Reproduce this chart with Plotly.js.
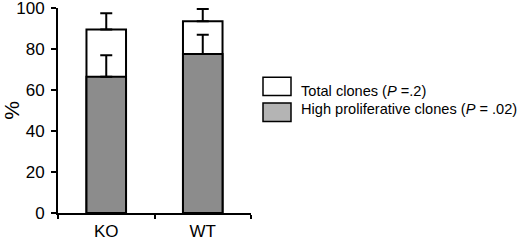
<!DOCTYPE html>
<html>
<head>
<meta charset="utf-8">
<script src="https://cdn.plot.ly/plotly-3.0.1.min.js"></script>
<style>html,body{margin:0;padding:0;background:#fff;}#chart{width:520px;height:240px;}</style>
</head>
<body>
<div id="chart"></div>
<script>
const categories = ['KO', 'WT'];
const totalClones = [89.5, 93.5];
const totalErr = [8, 6];
const highClones = [66.5, 77.5];
const highErr = [10.5, 9.5];
const seriesNames = ['Total clones (<i>P</i> =.2)', 'High proliferative clones (<i>P</i> = .02)'];
const yTicks = [0, 20, 40, 60, 80, 100];

const FONT = 'Liberation Sans, Arial, sans-serif';
const L = 58, R = 251, T = 7.5, B = 213.5;
const W = 520, H = 240;
const px = x => (x - L) / (R - L);
const py = y => (B - y) / (B - T);

const traces = [
  {
    type: 'bar', x: categories, y: totalClones, width: 0.41,
    marker: {color: '#ffffff', line: {color: '#000', width: 2}},
    error_y: {type: 'data', array: totalErr, arrayminus: [0, 0], symmetric: false, color: '#000', thickness: 2, width: 6},
    showlegend: false, hoverinfo: 'none'
  },
  {
    type: 'bar', x: categories, y: highClones, width: 0.41,
    marker: {color: '#8c8c8c', line: {color: '#000', width: 2}},
    error_y: {type: 'data', array: highErr, arrayminus: [0, 0], symmetric: false, color: '#000', thickness: 2, width: 6},
    showlegend: false, hoverinfo: 'none'
  }
];

const legendFill = ['#ffffff', '#b4b4b4'];
const boxTops = [77, 103];
const textY = [91, 109];
const shapes = [];
const annotations = [];
seriesNames.forEach((n, i) => {
  shapes.push({type: 'rect', xref: 'paper', yref: 'paper',
    x0: px(263), x1: px(291), y0: py(boxTops[i]), y1: py(boxTops[i] + 18.5),
    fillcolor: legendFill[i], line: {color: '#000', width: 1.5}});
  annotations.push({xref: 'paper', yref: 'paper', x: px(299), y: py(textY[i]),
    xanchor: 'left', yanchor: 'middle', text: n, showarrow: false,
    font: {family: FONT, size: 14.6, color: '#000'}});
});

const layout = {
  width: W, height: H,
  margin: {l: L, r: W - R, t: T, b: H - B},
  paper_bgcolor: '#fff', plot_bgcolor: '#fff',
  barmode: 'overlay',
  font: {family: FONT, size: 17, color: '#000'},
  xaxis: {
    type: 'category', range: [-0.5, 1.5], tickson: 'boundaries',
    ticks: 'outside', ticklen: 4, tickwidth: 2, tickcolor: '#000',
    ticklabelstandoff: 2,
    showline: true, linecolor: '#000', linewidth: 2,
    showgrid: false, zeroline: false, fixedrange: true,
    tickfont: {family: FONT, size: 17, color: '#000'}
  },
  yaxis: {
    range: [0, 100], tickvals: yTicks, ticktext: yTicks.map(String),
    ticks: 'outside', ticklen: 5, tickwidth: 2, tickcolor: '#000',
    ticklabeloverflow: 'allow', ticklabelstandoff: 3,
    showline: true, linecolor: '#000', linewidth: 2,
    showgrid: false, zeroline: false, fixedrange: true,
    tickfont: {family: FONT, size: 17, color: '#000'},
    title: {text: '%', font: {family: FONT, size: 21, color: '#000'}, standoff: 4}
  },
  shapes: shapes,
  annotations: annotations
};

Plotly.newPlot('chart', traces, layout, {displayModeBar: false, staticPlot: true});
</script>
</body>
</html>
